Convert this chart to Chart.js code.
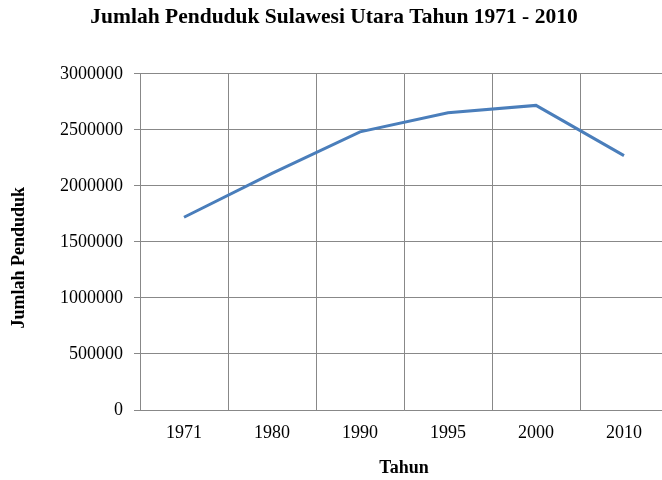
<!DOCTYPE html>
<html>
<head>
<meta charset="utf-8">
<script src="https://cdn.jsdelivr.net/npm/chart.js@4"></script>
<style>
  html, body { margin: 0; padding: 0; background: #fff; overflow: hidden; }
  #wrap { width: 685px; height: 480px; }
</style>
</head>
<body>
<div id="wrap"><canvas id="chart" width="685" height="480"></canvas></div>
<script>
// data
const years = ["1971", "1980", "1990", "1995", "2000", "2010"];
const population = [1720000, 2112000, 2482000, 2652000, 2718000, 2270000];
const yTicks = [0, 500000, 1000000, 1500000, 2000000, 2500000, 3000000];

const serif = "'Liberation Serif', 'Times New Roman', serif";
const gridColor = "#888888";

new Chart(document.getElementById('chart').getContext('2d'), {
  type: 'line',
  data: {
    labels: years,
    datasets: [{
      label: "Jumlah Penduduk",
      data: population,
      borderColor: '#4a7ebb',
      borderWidth: 3,
      pointRadius: 0,
      fill: false,
      tension: 0
    }]
  },
  options: {
    responsive: false,
    animation: false,
    // plot runs a little past the right edge of the page, as in the picture
    layout: { padding: { top: 0, right: 17, bottom: 0, left: 0 } },
    plugins: {
      legend: { display: false },
      tooltip: { enabled: false },
      title: {
        display: true,
        text: "Jumlah Penduduk Sulawesi Utara Tahun 1971 - 2010",
        color: '#000',
        font: { family: serif, size: 21.5, weight: 'bold', lineHeight: 1.2 },
        padding: { top: 5, bottom: 43 }
      }
    },
    scales: {
      x: {
        offset: true,
        grid: { offset: true, color: gridColor, drawTicks: false },
        border: { color: gridColor },
        ticks: { color: '#000', font: { family: serif, size: 18 }, padding: 12 },
        title: {
          display: true,
          text: "Tahun",
          color: '#000',
          font: { family: serif, size: 18, weight: 'bold', lineHeight: 1.2 },
          padding: { top: 0, bottom: 1 }
        },
        afterFit: (scale) => { scale.height = 70; }
      },
      y: {
        min: 0,
        max: 3000000,
        afterBuildTicks: (scale) => { scale.ticks = yTicks.map(v => ({ value: v })); },
        grid: { color: gridColor, tickLength: 6 },
        border: { color: gridColor },
        ticks: {
          color: '#000',
          font: { family: serif, size: 18 },
          padding: 11,
          callback: (v) => String(v)
        },
        title: {
          display: true,
          text: "Jumlah Penduduk" + "\u00a0".repeat(7),
          color: '#000',
          font: { family: serif, size: 18, weight: 'bold', lineHeight: 1.2 },
          padding: { top: 9, bottom: 0 }
        },
        afterFit: (scale) => { scale.width = 140; }
      }
    }
  }
});
</script>
</body>
</html>
